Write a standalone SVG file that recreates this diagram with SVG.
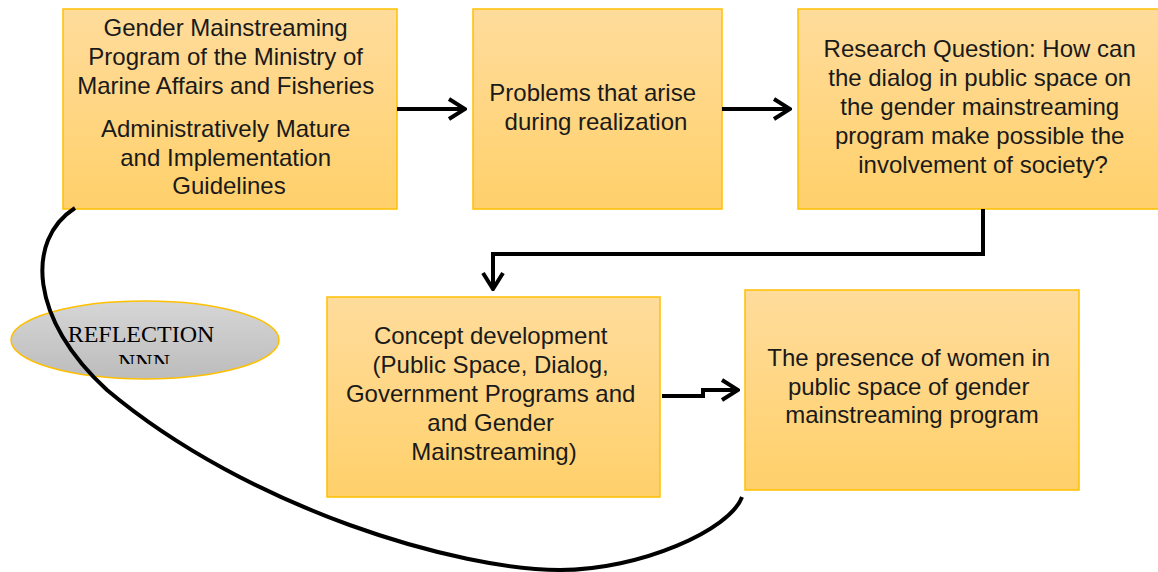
<svg xmlns="http://www.w3.org/2000/svg" width="1158" height="572" viewBox="0 0 1158 572">
  <defs>
    <linearGradient id="boxFill" x1="0" y1="0" x2="0" y2="1">
      <stop offset="0" stop-color="#FFDC9C"/>
      <stop offset="1" stop-color="#FFD06A"/>
    </linearGradient>
    <linearGradient id="ovalFill" x1="0" y1="0" x2="0" y2="1">
      <stop offset="0" stop-color="#D6D6D6"/>
      <stop offset="1" stop-color="#BCBCBC"/>
    </linearGradient>
    <marker id="chevron" viewBox="0 0 20 24" refX="18" refY="12" markerWidth="20" markerHeight="24" markerUnits="userSpaceOnUse" orient="auto">
      <path d="M2,2 L18,12 L2,22" fill="none" stroke="#000" stroke-width="4"/>
    </marker>
    <clipPath id="ovalText">
      <rect x="0" y="300" width="300" height="64"/>
    </clipPath>
  </defs>
  <style>
    .box { fill: url(#boxFill); stroke: #FFC000; stroke-width: 1.5; }
    .label { font-family: "Liberation Sans", Arial, sans-serif; font-size: 24px; fill: #1a1a1a; text-anchor: middle; }
    .oval { fill: url(#ovalFill); stroke: #FFC000; stroke-width: 1.5; }
    .ovalLabel { font-family: "Liberation Serif", "Times New Roman", serif; font-size: 24px; fill: #000; text-anchor: middle; }
    .link { fill: none; stroke: #000; stroke-width: 4; marker-end: url(#chevron); }
    .loop { fill: none; stroke: #000; stroke-width: 4; }
  </style>

  <g id="node-program">
    <rect class="box" x="63" y="9" width="334" height="200"/>
    <text class="label">
      <tspan x="229" y="36">Gender Mainstreaming</tspan>
      <tspan x="229" y="65">Program of the Ministry of</tspan>
      <tspan x="229" y="94">Marine Affairs and Fisheries</tspan>
      <tspan x="229" y="137">Administratively Mature</tspan>
      <tspan x="229" y="166">and Implementation</tspan>
      <tspan x="229" y="194">Guidelines</tspan>
    </text>
  </g>

  <g id="node-problems">
    <rect class="box" x="473" y="9" width="249" height="200"/>
    <text class="label">
      <tspan x="596" y="101">Problems that arise</tspan>
      <tspan x="596" y="130">during realization</tspan>
    </text>
  </g>

  <g id="node-question">
    <rect class="box" x="798" y="9" width="366" height="200"/>
    <text class="label">
      <tspan x="983" y="57">Research Question: How can</tspan>
      <tspan x="983" y="86">the dialog in public space on</tspan>
      <tspan x="983" y="115">the gender mainstreaming</tspan>
      <tspan x="983" y="144">program make possible the</tspan>
      <tspan x="983" y="173">involvement of society?</tspan>
    </text>
  </g>

  <g id="node-concept">
    <rect class="box" x="327" y="297" width="333" height="200"/>
    <text class="label">
      <tspan x="494" y="344">Concept development</tspan>
      <tspan x="494" y="373">(Public Space, Dialog,</tspan>
      <tspan x="494" y="402">Government Programs and</tspan>
      <tspan x="494" y="431">and Gender</tspan>
      <tspan x="494" y="460">Mainstreaming)</tspan>
    </text>
  </g>

  <g id="node-presence">
    <rect class="box" x="745" y="290" width="334" height="200"/>
    <text class="label">
      <tspan x="912" y="366">The presence of women in</tspan>
      <tspan x="912" y="395">public space of gender</tspan>
      <tspan x="912" y="423">mainstreaming program</tspan>
    </text>
  </g>

  <g id="node-reflection">
    <ellipse class="oval" cx="145" cy="340" rx="134" ry="39"/>
    <g clip-path="url(#ovalText)">
      <text class="ovalLabel">
        <tspan x="144" y="342">REFLECTION</tspan>
        <tspan x="144" y="370">NNN</tspan>
      </text>
    </g>
  </g>

  <g id="connectors">
    <path class="link" d="M397,109 H465"/>
    <path class="link" d="M722,109 H790"/>
    <path class="link" d="M983,209 V254 H493 V289"/>
    <path class="link" d="M662,396 H703 V390 H738"/>
    <!-- feedback loop from the outcome back to the starting program -->
    <path class="loop" d="M742,497 C730,530 640,570 560,570 C460,570 250,510 107,390 C30,320 25,240 75,208"/>
  </g>
</svg>
